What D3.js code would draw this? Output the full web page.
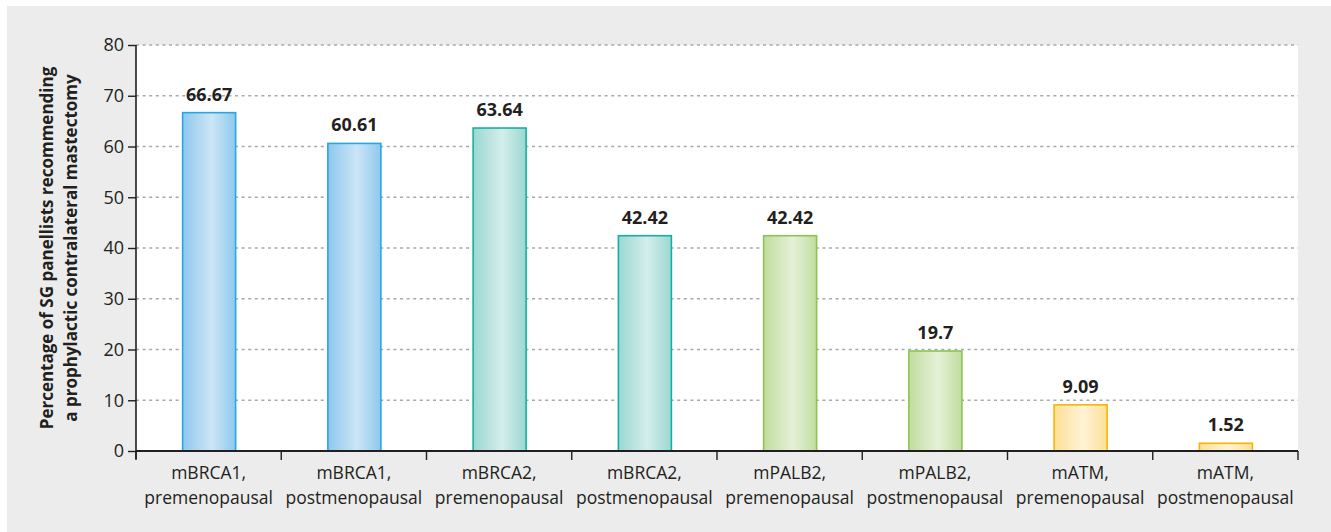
<!DOCTYPE html>
<html><head><meta charset="utf-8">
<script src="https://cdn.jsdelivr.net/npm/d3@7"></script>
<style>
html,body{margin:0;padding:0;background:#fff;}
svg{display:block;}
text{font-family:"Open Sans","Noto Sans",sans-serif;fill:#231f20;}
</style></head>
<body>
<svg id="chart" width="1331" height="532"></svg>
<script>
const categories = [
  ["mBRCA1,","premenopausal"],["mBRCA1,","postmenopausal"],
  ["mBRCA2,","premenopausal"],["mBRCA2,","postmenopausal"],
  ["mPALB2,","premenopausal"],["mPALB2,","postmenopausal"],
  ["mATM,","premenopausal"],["mATM,","postmenopausal"]
];
const values = [66.67, 60.61, 63.64, 42.42, 42.42, 19.7, 9.09, 1.52];
const valueLabels = ["66.67","60.61","63.64","42.42","42.42","19.7","9.09","1.52"];
const groups = ["brca1","brca1","brca2","brca2","palb2","palb2","atm","atm"];
const yTicks = [0,10,20,30,40,50,60,70,80];
const yTitle = ["Percentage of SG panellists recommending","a prophylactic contralateral mastectomy"];

const palette = {
  brca1:{edge:"#8ec8ee", mid:"#cce5f6", stroke:"#29a6e0"},
  brca2:{edge:"#9bd7d1", mid:"#d4eeeb", stroke:"#14b1a2"},
  palb2:{edge:"#c0dd9d", mid:"#e5f1d8", stroke:"#8cc453"},
  atm:{edge:"#fde096", mid:"#fff2d6", stroke:"#f8b500"}
};

const svg = d3.select("#chart");
const L=136, R=1298, T=45, B=451;

svg.append("rect").attr("x",7).attr("y",6).attr("width",1324).attr("height",526).attr("fill","#ebeceb");
svg.append("rect").attr("x",L).attr("y",T).attr("width",R-L).attr("height",B-T).attr("fill","#ffffff");

const defs = svg.append("defs");
Object.entries(palette).forEach(([k,c])=>{
  const g = defs.append("linearGradient").attr("id","g-"+k).attr("x1","0").attr("x2","1").attr("y1","0").attr("y2","0");
  g.append("stop").attr("offset","0%").attr("stop-color",c.edge);
  g.append("stop").attr("offset","55%").attr("stop-color",c.mid);
  g.append("stop").attr("offset","100%").attr("stop-color",c.edge);
});

const x = d3.scaleBand().domain(d3.range(categories.length)).range([L,R]).paddingInner(0).paddingOuter(0);
const y = d3.scaleLinear().domain([0,80]).range([B,T]);

// gridlines
svg.append("g").selectAll("line").data(yTicks.filter(d=>d>0)).join("line")
  .attr("x1",L).attr("x2",R).attr("y1",d=>y(d)).attr("y2",d=>y(d))
  .attr("stroke","#a7a9ac").attr("stroke-width",1.3).attr("stroke-dasharray","3,3.6");

// bars
const bw = 53;
svg.append("g").selectAll("rect").data(values).join("rect")
  .attr("x",(d,i)=>x(i)+x.bandwidth()/2-bw/2+0.5)
  .attr("y",d=>y(d))
  .attr("width",bw)
  .attr("height",d=>B-y(d))
  .attr("fill",(d,i)=>`url(#g-${groups[i]})`)
  .attr("stroke",(d,i)=>palette[groups[i]].stroke)
  .attr("stroke-width",1.6);

// value labels
svg.append("g").selectAll("text").data(values).join("text")
  .attr("x",(d,i)=>x(i)+x.bandwidth()/2+0.5)
  .attr("y",d=>y(d)-12)
  .attr("text-anchor","middle")
  .attr("font-weight","bold")
  .attr("font-size",18)
  .text((d,i)=>valueLabels[i]);

// y axis
const yAxis = svg.append("g").attr("transform",`translate(${L},0)`)
  .call(d3.axisLeft(y).tickValues(yTicks).tickSize(8).tickPadding(4));
yAxis.select(".domain").attr("stroke","#231f20").attr("stroke-width",1.6).attr("d",`M0,${B+8}V${T}`);
yAxis.selectAll(".tick line").attr("stroke","#231f20").attr("stroke-width",1.4);
yAxis.selectAll(".tick text").attr("font-size",18).attr("fill","#231f20").attr("font-family","'Open Sans','Noto Sans',sans-serif");

// x axis
const xb = d3.range(categories.length+1).map(i=>L+i*x.step());
svg.append("line").attr("x1",L).attr("x2",R).attr("y1",B).attr("y2",B).attr("stroke","#231f20").attr("stroke-width",1.8);
svg.append("g").selectAll("line").data(xb).join("line")
  .attr("x1",d=>d).attr("x2",d=>d).attr("y1",B).attr("y2",B+9)
  .attr("stroke","#231f20").attr("stroke-width",1.4);

const xl = svg.append("g").selectAll("text").data(categories).join("text")
  .attr("x",(d,i)=>x(i)+x.bandwidth()/2)
  .attr("y",479)
  .attr("text-anchor","middle")
  .attr("font-size",17.5);
xl.append("tspan").attr("x",(d,i)=>x(i)+x.bandwidth()/2).attr("dy",0).text(d=>d[0]);
xl.append("tspan").attr("x",(d,i)=>x(i)+x.bandwidth()/2).attr("dy",25).text(d=>d[1]);

// y title
const yt = svg.append("text").attr("transform",`translate(53,${(T+B)/2}) rotate(-90)`)
  .attr("text-anchor","middle").attr("font-weight","bold").attr("font-size",17);
yt.append("tspan").attr("x",0).attr("dy",0).text(yTitle[0]);
yt.append("tspan").attr("x",0).attr("dy",24).text(yTitle[1]);
</script>
</body></html>
